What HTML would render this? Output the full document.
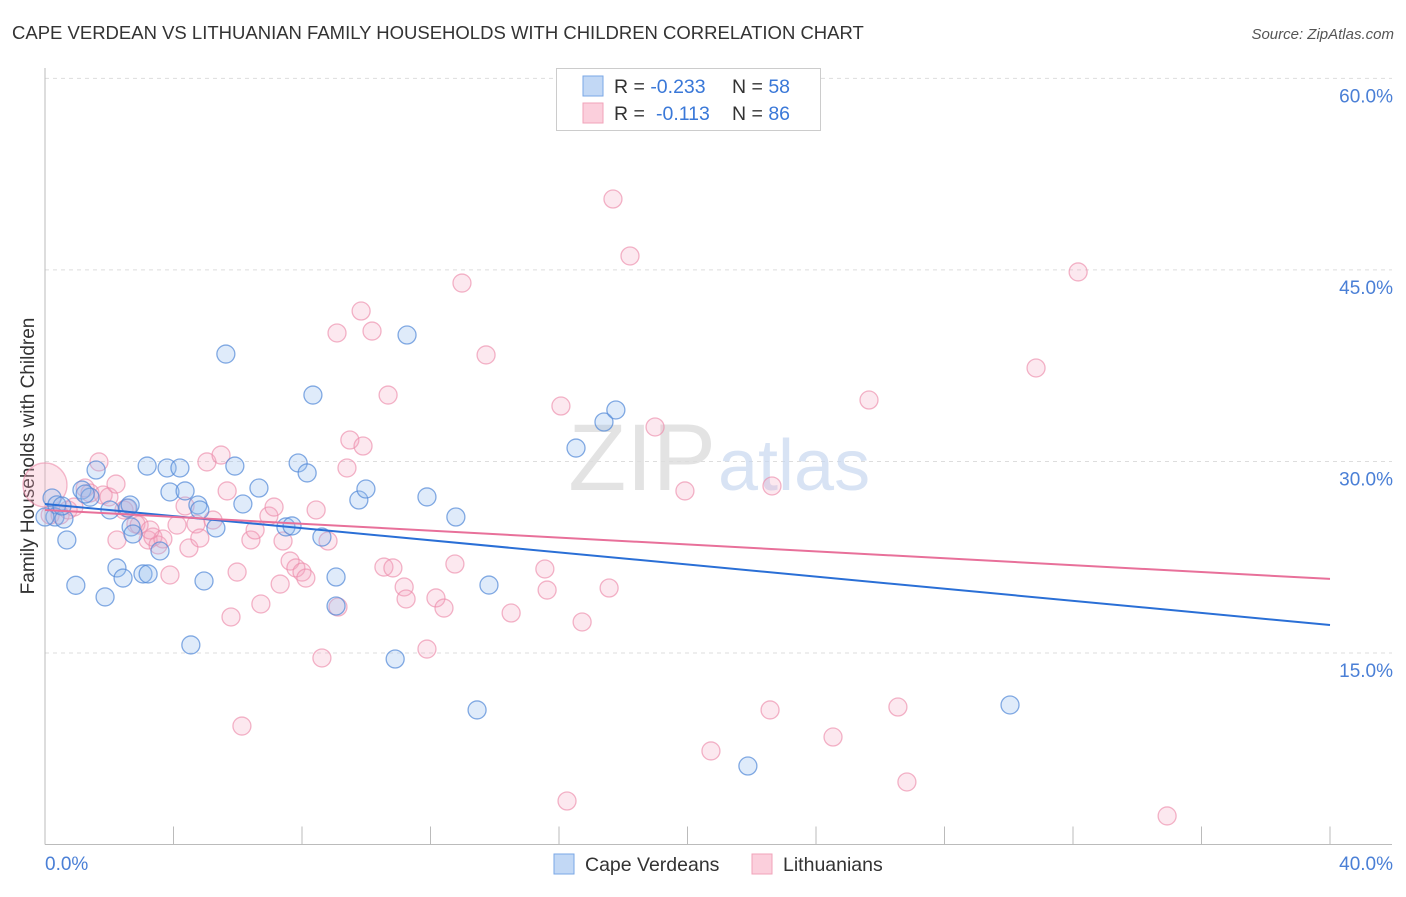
<!DOCTYPE html>
<html><head><meta charset="utf-8"><style>
body{margin:0;background:#fff;font-family:"Liberation Sans",sans-serif}
svg text{font-family:"Liberation Sans",sans-serif}
</style></head><body>
<svg id="chart" width="1406" height="892" viewBox="0 0 1406 892">
<text x="12" y="39" font-size="18.5" fill="#333">CAPE VERDEAN VS LITHUANIAN FAMILY HOUSEHOLDS WITH CHILDREN CORRELATION CHART</text>
<text x="1394" y="39" font-size="15" fill="#555" font-style="italic" text-anchor="end">Source: ZipAtlas.com</text>
<text transform="translate(34,456) rotate(-90)" font-size="19" fill="#333" text-anchor="middle">Family Households with Children</text>
<g id="grid"></g>
<text x="716" y="490" font-size="95" fill="#ddd" text-anchor="end" font-family="Liberation Serif" opacity="0.8">ZIP</text>
<text x="718" y="490" font-size="72" fill="#c8d8f0" opacity="0.7">atlas</text>
<g id="axes"></g>
<g id="pts"></g>
<g id="lines"></g>
<g>
<rect x="556.5" y="68.5" width="264" height="62" fill="#fff" stroke="#ccc"/>
<rect x="583" y="76" width="20" height="20" fill="#c2d8f5" stroke="#7aa7e6"/>
<rect x="583" y="103" width="20" height="20" fill="#fbcfdc" stroke="#f0a3ba"/>
<text x="614" y="93" font-size="19.5" fill="#333">R = <tspan fill="#3a78d8">-0.233</tspan><tspan x="732">N = </tspan><tspan fill="#3a78d8">58</tspan></text>
<text x="614" y="120" font-size="19.5" fill="#333">R = <tspan fill="#3a78d8" x="656">-0.113</tspan><tspan x="732">N = </tspan><tspan fill="#3a78d8">86</tspan></text>
</g>
<g>
<rect x="554" y="854" width="20" height="20" fill="#c2d8f5" stroke="#7aa7e6"/>
<text x="585" y="871" font-size="19.5" fill="#333">Cape Verdeans</text>
<rect x="752" y="854" width="20" height="20" fill="#fbcfdc" stroke="#f0a3ba"/>
<text x="783" y="871" font-size="19.5" fill="#333">Lithuanians</text>
</g>
</svg>
<script>
const yTicks=[15,30,45,60];
const yTickLabels=["15.0%","30.0%","45.0%","60.0%"];
const xEndLabels=["0.0%","40.0%"];
const blueX=[0.22,0.37,0.31,0.68,0.96,1.15,1.40,1.59,1.87,2.02,2.24,2.43,2.58,2.68,2.74,3.05,3.18,3.21,3.58,3.80,3.89,4.20,4.36,4.76,4.82,4.95,4.54,5.32,5.63,5.91,6.16,6.66,7.50,7.69,7.88,8.16,8.34,8.62,9.06,9.06,9.77,9.99,10.90,11.27,11.89,12.79,13.45,13.82,16.53,17.40,17.77,21.88,30.04,0.59,0.0,0.53,1.25,2.65];
const blueY=[27.14,26.6,25.65,23.85,20.3,27.76,27.2,29.33,19.39,26.2,21.66,20.87,26.35,24.87,24.32,21.19,29.64,21.19,22.99,29.49,27.61,29.49,27.69,26.59,26.2,20.64,15.63,24.79,38.41,29.64,26.67,27.92,24.87,24.95,29.88,29.1,35.2,24.08,20.95,18.68,26.98,27.84,14.53,39.9,27.22,25.65,10.54,20.32,31.05,33.09,34.03,6.15,10.93,25.49,25.65,26.51,27.45,26.59];
const pinkX=[0.16,0.47,0.72,0.90,1.25,1.40,1.68,1.81,1.99,2.21,2.46,2.55,2.83,2.93,3.21,3.36,3.52,3.67,3.89,4.11,4.36,4.48,4.70,4.82,5.04,5.23,5.48,5.67,5.79,5.98,6.13,6.41,6.54,6.72,6.97,7.13,7.32,7.41,7.63,7.81,8.0,8.12,8.44,8.62,8.81,9.09,9.12,9.40,9.49,9.84,9.90,10.18,10.55,10.68,10.83,11.18,11.24,11.89,12.17,12.42,12.76,12.98,13.73,14.51,15.56,15.63,16.06,16.25,16.72,17.56,17.68,18.21,18.99,19.92,20.73,22.57,22.63,24.53,25.65,26.55,26.83,30.85,32.16,34.93,2.24,3.27];
const pinkY=[25.8,25.8,26.2,26.43,27.92,27.53,29.96,27.37,27.22,28.23,26.2,26.35,25.1,25.02,23.85,24.08,23.46,23.93,21.11,25.02,26.51,23.22,25.1,24.0,29.96,25.41,30.5,27.69,17.82,21.34,9.28,23.85,24.63,18.84,25.73,26.43,20.4,23.77,22.2,21.66,21.34,20.87,26.2,14.61,23.77,40.06,18.6,29.49,31.68,41.78,31.21,40.21,21.73,35.2,21.66,20.17,19.23,15.31,19.31,18.52,21.97,43.97,38.34,18.13,21.58,19.93,34.34,3.41,17.43,20.09,50.55,46.09,32.7,27.69,7.33,10.54,28.08,8.42,34.81,10.77,4.9,37.32,44.84,2.24,23.85,24.63];
const bigPinkX=[0.0],bigPinkY=[28.16];
const blueTrend=[26.67,17.19];
const pinkTrend=[26.2,20.8];

const NS="http://www.w3.org/2000/svg";
const X0=45,X1=1330,Y15=653,PPU=12.77;
function sx(v){return X0+(X1-X0)*v/40;}
function sy(v){return Y15-(v-15)*PPU;}
function mk(tag,attrs,parent){const e=document.createElementNS(NS,tag);for(const k in attrs)e.setAttribute(k,attrs[k]);parent.appendChild(e);return e;}
const grid=document.getElementById('grid'),axes=document.getElementById('axes'),pts=document.getElementById('pts'),lines=document.getElementById('lines');
yTicks.forEach((t,i)=>{
  const l=mk('line',{x1:X0,x2:1392,y1:sy(t),y2:sy(t),stroke:'#ddd','stroke-dasharray':'4,4'},grid);
  
  
  const tx=mk('text',{x:1393,y:sy(t)+24,'font-size':19,fill:'#4a7fd6','text-anchor':'end'},axes);
  tx.textContent=yTickLabels[i];
  
  
});
const ya=mk('line',{x1:X0,x2:X0,y1:68,y2:sy(0),stroke:'#bbb'},axes);


const xa=mk('line',{x1:X0,x2:1392,y1:sy(0),y2:sy(0),stroke:'#bbb'},axes);


for(let i=1;i<=10;i++){
  const tk=mk('line',{x1:sx(i*4),x2:sx(i*4),y1:sy(0)-18,y2:sy(0),stroke:'#bbb'},axes);
  
  
}
const xl0=mk('text',{x:45,y:870,'font-size':19,fill:'#4a7fd6'},axes);xl0.textContent=xEndLabels[0];


const xl1=mk('text',{x:1393,y:870,'font-size':19,fill:'#4a7fd6','text-anchor':'end'},axes);xl1.textContent=xEndLabels[1];


function dots(xs,ys,fill,stroke,name,r){
  xs.forEach((x,i)=>{
    const c=mk('circle',{cx:sx(x),cy:sy(ys[i]),r:r,fill:fill,stroke:stroke,'stroke-width':1.3},pts);
    
    
  });
}
dots(bigPinkX,bigPinkY,'rgba(245,165,190,0.3)','rgba(236,140,170,0.6)','lithuanian-point-large',22);
dots(pinkX,pinkY,'rgba(245,165,190,0.25)','rgba(236,140,170,0.65)','lithuanian-point',9);
dots(blueX,blueY,'rgba(150,190,240,0.3)','rgba(80,135,215,0.7)','cape-verdean-point',9);
const bl=mk('line',{x1:sx(0),y1:sy(blueTrend[0]),x2:sx(40),y2:sy(blueTrend[1]),stroke:'#2a6fd6','stroke-width':2},lines);


const pl=mk('line',{x1:sx(0),y1:sy(pinkTrend[0]),x2:sx(40),y2:sy(pinkTrend[1]),stroke:'#e8709a','stroke-width':2},lines);


</script>
</body></html>
